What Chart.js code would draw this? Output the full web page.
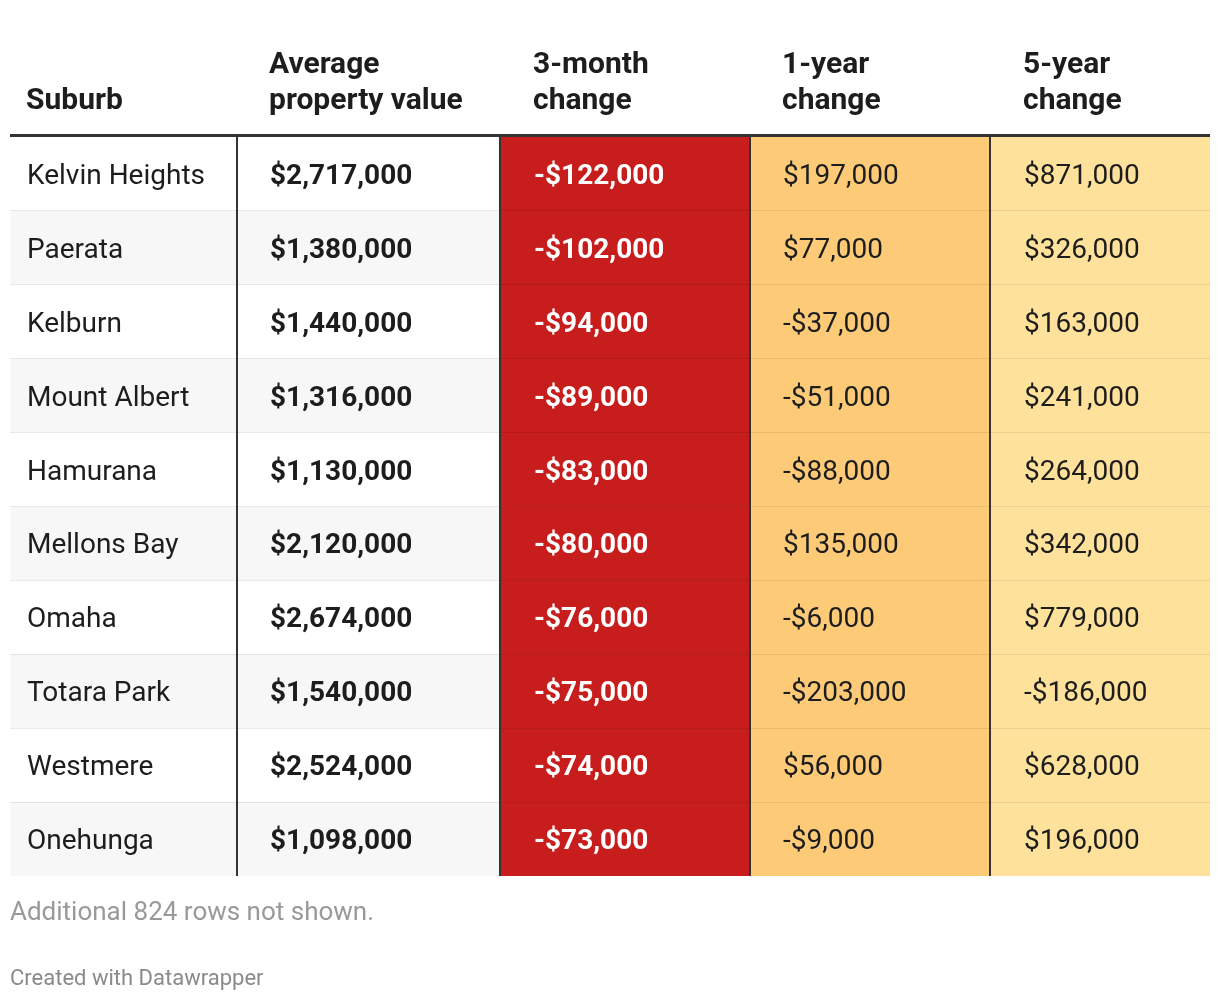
<!DOCTYPE html>
<html>
<head>
<meta charset="utf-8">
<script src="https://cdn.jsdelivr.net/npm/chart.js@4.4.1/dist/chart.umd.min.js"></script>
<style>
	html, body { margin: 0; padding: 0; background: #fff; }
	#wrap { width: 1220px; height: 1002px; }
</style>
</head>
<body>
<div id="wrap"><canvas id="myChart" width="1220" height="1002"></canvas></div>
<script>
// data
var suburbs = ['Kelvin Heights', 'Paerata', 'Kelburn', 'Mount Albert', 'Hamurana',
	'Mellons Bay', 'Omaha', 'Totara Park', 'Westmere', 'Onehunga'];
var avgValue = [2717000, 1380000, 1440000, 1316000, 1130000, 2120000, 2674000, 1540000, 2524000, 1098000];
var change3m = [-122000, -102000, -94000, -89000, -83000, -80000, -76000, -75000, -74000, -73000];
var change1y = [197000, 77000, -37000, -51000, -88000, 135000, -6000, -203000, 56000, -9000];
var change5y = [871000, 326000, 163000, 241000, 264000, 342000, 779000, -186000, 628000, 196000];
var headers = [['Suburb'], ['Average', 'property value'], ['3-month', 'change'], ['1-year', 'change'], ['5-year', 'change']];
var note = 'Additional 824 rows not shown.';
var credit = 'Created with Datawrapper';

// layout (column edges in x-scale units)
var colEdges = [0, 227, 490, 740, 980, 1200];
var innerEdges = [227, 490, 740, 980];
var FONT = 'Roboto, "Noto Sans", sans-serif';

// colours per column
function cellColor(col, row) {
	if (col == 2) return '#c71e1d';
	if (col == 3) return '#fdca78';
	if (col == 4) return '#fee29b';
	return row % 2 == 1 ? '#f7f7f7' : '#ffffff';
}

function money(v) {
	var s = Math.abs(v).toString().replace(/\B(?=(\d{3})+(?!\d))/g, ",");
	return (v < 0 ? '-$' : '$') + s;
}

var columns = [
	suburbs,
	avgValue.map(money),
	change3m.map(money),
	change1y.map(money),
	change5y.map(money)
];
var textStyle = [
	{ weight: '400', color: '#1d1d1d' },
	{ weight: '700', color: '#1d1d1d' },
	{ weight: '700', color: '#ffffff' },
	{ weight: '400', color: '#1d1d1d' },
	{ weight: '400', color: '#1d1d1d' }
];
var textPad = [17, 33, 34, 33, 34];

var datasets = [];
for (let c = 0; c < 5; c++) {
	datasets.push({
		label: headers[c].join(' '),
		data: suburbs.map(() => [colEdges[c], colEdges[c + 1]]),
		backgroundColor: suburbs.map((s, r) => cellColor(c, r)),
		borderWidth: 0,
		barPercentage: 1,
		categoryPercentage: 1,
		grouped: false
	});
}

var tableText = {
	id: 'tableText',
	afterDraw(chart) {
		var ctx = chart.ctx;
		var x = chart.scales.x, y = chart.scales.y;
		var area = chart.chartArea;
		ctx.save();
		// header rule
		ctx.fillStyle = '#333333';
		ctx.fillRect(area.left, area.top - 3, area.right - area.left, 3);
		ctx.textBaseline = 'middle';
		ctx.textAlign = 'left';
		// headers
		ctx.font = '700 30px ' + FONT;
		ctx.fillStyle = '#1d1d1d';
		headers.forEach((h, c) => {
			var hx = x.getPixelForValue(colEdges[c]) + textPad[c] - 1;
			var lines = h.length;
			h.forEach((t, i) => {
				ctx.fillText(t, hx, 101 - (lines - 1 - i) * 36);
			});
		});
		// cells
		columns.forEach((col, c) => {
			ctx.font = textStyle[c].weight + ' 28px ' + FONT;
			ctx.fillStyle = textStyle[c].color;
			col.forEach((t, r) => {
				ctx.fillText(t, x.getPixelForValue(colEdges[c]) + textPad[c], y.getPixelForValue(r) + 3);
			});
		});
		// footer
		ctx.fillStyle = '#999999';
		ctx.font = '400 26px ' + FONT;
		ctx.fillText(note, area.left, 913);
		ctx.fillStyle = '#8a8a8a';
		ctx.font = '400 22px ' + FONT;
		ctx.fillText(credit, area.left, 979);
		ctx.restore();
	}
};

var ctx = document.getElementById('myChart').getContext('2d');
new Chart(ctx, {
	type: 'bar',
	data: { labels: suburbs, datasets: datasets },
	options: {
		responsive: false,
		animation: false,
		devicePixelRatio: 1,
		indexAxis: 'y',
		layout: { padding: { left: 10, right: 10, top: 137, bottom: 126 } },
		plugins: { legend: { display: false }, tooltip: { enabled: false } },
		scales: {
			x: {
				type: 'linear',
				min: 0,
				max: 1200,
				afterBuildTicks: function(scale) {
					scale.ticks = colEdges.map(v => ({ value: v }));
				},
				ticks: { display: false },
				border: { display: false },
				grid: {
					drawTicks: false,
					z: 2,
					lineWidth: 2,
					color: c => innerEdges.indexOf(c.tick && c.tick.value) >= 0 ? '#333333' : 'rgba(0,0,0,0)'
				}
			},
			y: {
				type: 'category',
				ticks: { display: false },
				border: { display: false },
				grid: {
					offset: true,
					drawTicks: false,
					z: 1,
					lineWidth: 1,
					color: c => (c.index > 0 && c.index < suburbs.length) ? 'rgba(0,0,0,0.08)' : 'rgba(0,0,0,0)'
				}
			}
		}
	},
	plugins: [tableText]
});
</script>
</body>
</html>
